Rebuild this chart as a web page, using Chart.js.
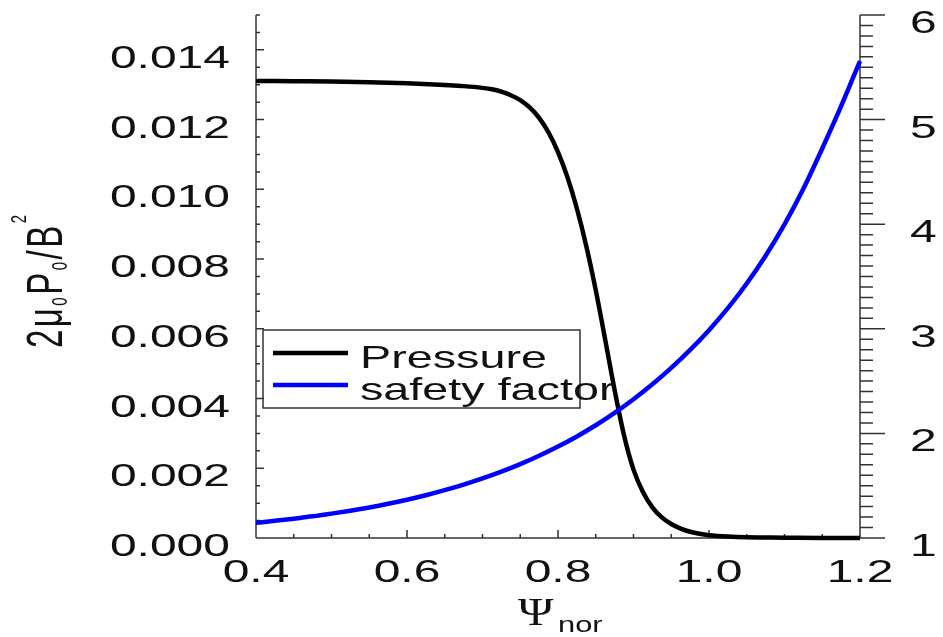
<!DOCTYPE html>
<html>
<head>
<meta charset="utf-8">
<script src="https://cdn.jsdelivr.net/npm/chart.js@4/dist/chart.umd.min.js"></script>
<style>
html, body { margin: 0; padding: 0; background: #fff; overflow: hidden; }
</style>
</head>
<body>
<canvas id="profChart" width="943" height="637"></canvas>
<script>
// data
const psiP = [0.40, 0.45, 0.50, 0.55, 0.60, 0.65, 0.675, 0.70, 0.7125, 0.725, 0.7375, 0.75, 0.7625,
              0.775, 0.7875, 0.80, 0.8125, 0.825, 0.8375, 0.85, 0.8625, 0.875, 0.8875, 0.90,
              0.9125, 0.925, 0.9375, 0.95, 0.9625, 0.975, 0.9875, 1.00, 1.025, 1.05, 1.10, 1.15, 1.20];
const pressure = [0.01311, 0.01310, 0.01309, 0.01307, 0.01304, 0.01299, 0.01296, 0.01291, 0.01287, 0.01280, 0.01270, 0.01256, 0.01235,
                  0.01205, 0.01163, 0.01107, 0.01035, 0.00945, 0.00837, 0.00711, 0.00569, 0.00424, 0.00294, 0.00196,
                  0.00132, 0.00088, 0.00059, 0.00040, 0.00027, 0.00018, 0.00012, 0.00008, 0.00004, 0.00002, 0.00001, 0.00000, 0.00000];
const psiQ = [0.400, 0.425, 0.450, 0.475, 0.500, 0.525, 0.550, 0.575, 0.600, 0.625, 0.650,
              0.675, 0.700, 0.725, 0.750, 0.775, 0.800, 0.825, 0.850, 0.875, 0.900, 0.925,
              0.950, 0.975, 1.000, 1.025, 1.050, 1.075, 1.100, 1.125, 1.150, 1.175, 1.200];
const safety = [1.145, 1.164, 1.185, 1.207, 1.233, 1.261, 1.292, 1.327, 1.366, 1.409, 1.457,
                1.510, 1.569, 1.634, 1.706, 1.786, 1.874, 1.971, 2.078, 2.196, 2.326, 2.469,
                2.626, 2.798, 2.987, 3.197, 3.433, 3.699, 3.999, 4.339, 4.724, 5.129, 5.560];

const xTicks = [0.4, 0.6, 0.8, 1.0, 1.2];
const xTickLabels = ['0.4', '0.6', '0.8', '1.0', '1.2'];
const leftTicks = [0, 0.002, 0.004, 0.006, 0.008, 0.010, 0.012, 0.014];
const leftTickLabels = ['0.000', '0.002', '0.004', '0.006', '0.008', '0.010', '0.012', '0.014'];
const rightTicks = [1, 2, 3, 4, 5, 6];
const rightTickLabels = ['1', '2', '3', '4', '5', '6'];
const seriesLabels = ['Pressure', 'safety factor'];
const seriesColors = ['#000000', '#0000ff'];

const TXT = '#111';
const AX = '#333';
const SX = 1.5; // the reference is stretched sideways

function stretchText(ctx, text, x, y, align, font, sx) {
    ctx.save();
    ctx.translate(x, y);
    ctx.scale(sx, 1);
    ctx.font = font;
    ctx.textAlign = align;
    ctx.textBaseline = 'alphabetic';
    ctx.fillStyle = TXT;
    ctx.fillText(text, 0, 0);
    ctx.restore();
}

// IDL style axes: inward ticks on left / bottom, outward on right
const axesPlugin = {
    id: 'idlAxes',
    beforeDatasetsDraw(chart) {
        const ctx = chart.ctx;
        const ca = chart.chartArea;
        const xs = chart.scales.x, ys = chart.scales.y, y1 = chart.scales.y1;
        ctx.save();
        ctx.strokeStyle = AX;
        ctx.lineWidth = 1.5;
        ctx.beginPath();
        ctx.moveTo(ca.left, ca.top); ctx.lineTo(ca.left, ca.bottom);
        ctx.moveTo(ca.left, ca.bottom); ctx.lineTo(ca.right, ca.bottom);
        ctx.moveTo(ca.right, ca.top); ctx.lineTo(ca.right, ca.bottom);
        // left minor/major ticks
        for (let i = 0; i <= 30; i++) {
            const py = ys.getPixelForValue(i * 0.0005);
            const len = i % 4 === 0 ? 8 : 4;
            ctx.moveTo(ca.left, py); ctx.lineTo(ca.left + len, py);
        }
        // bottom ticks
        for (let i = 0; i <= 16; i++) {
            const px = xs.getPixelForValue(0.4 + i * 0.05);
            const len = i % 4 === 0 ? 8 : 4;
            ctx.moveTo(px, ca.bottom); ctx.lineTo(px, ca.bottom - len);
        }
        // right ticks
        for (let i = 0; i <= 50; i++) {
            const py = y1.getPixelForValue(1 + i * 0.1);
            const len = i % 10 === 0 ? 25 : 13;
            ctx.moveTo(ca.right, py); ctx.lineTo(ca.right + len, py);
        }
        ctx.stroke();
        ctx.restore();

        const tickFont = '32px "Liberation Sans", Arial, sans-serif';
        leftTicks.forEach((v, i) => {
            stretchText(ctx, leftTickLabels[i], ca.left - 26, ys.getPixelForValue(v) + 18, 'right', tickFont, SX);
        });
        rightTicks.forEach((v, i) => {
            stretchText(ctx, rightTickLabels[i], ca.right + 50, y1.getPixelForValue(v) + 18, 'left', tickFont, SX);
        });
        xTicks.forEach((v, i) => {
            stretchText(ctx, xTickLabels[i], xs.getPixelForValue(v), ca.bottom + 44, 'center', tickFont, SX);
        });

        // x title: Psi_nor
        stretchText(ctx, '\u03A8', 518, 625, 'left', '40px "Liberation Serif", serif', 1.2);
        stretchText(ctx, 'nor', 558, 632, 'left', '22px "Liberation Sans", Arial, sans-serif', 1.4);

        // y title: 2 mu_0 P_0 / B^2, rotated
        const parts = [
            ['2', 33, 0], ['\u03BC', 33, 0], ['0', 15, 3], ['P', 33, 0],
            ['0', 15, 3], ['/', 33, 0], ['B', 33, 0], ['2', 15, -24]
        ];
        ctx.save();
        ctx.translate(62, 348);
        ctx.rotate(-Math.PI / 2);
        ctx.scale(1, SX);
        ctx.fillStyle = TXT;
        ctx.textBaseline = 'alphabetic';
        ctx.textAlign = 'left';
        let pos = 0;
        parts.forEach(([t, size, dy]) => {
            ctx.font = size + 'px "Liberation Sans", Arial, sans-serif';
            ctx.fillText(t, pos, dy);
            pos += ctx.measureText(t).width + 2.5;
        });
        ctx.restore();
    },
    afterDatasetsDraw(chart) {
        const ctx = chart.ctx;
        // legend box
        ctx.save();
        ctx.strokeStyle = AX;
        ctx.lineWidth = 1.5;
        ctx.strokeRect(263, 330, 317, 78);
        const rows = [353, 385];
        rows.forEach((ry, i) => {
            ctx.strokeStyle = seriesColors[i];
            ctx.lineWidth = 4.5;
            ctx.beginPath();
            ctx.moveTo(273, ry); ctx.lineTo(348, ry);
            ctx.stroke();
        });
        ctx.restore();
        const legFont = '32px "Liberation Sans", Arial, sans-serif';
        stretchText(ctx, seriesLabels[0], 360, 368, 'left', legFont, 1.46);
        stretchText(ctx, seriesLabels[1], 360, 400, 'left', legFont, 1.46);
    }
};

const ctx = document.getElementById('profChart').getContext('2d');
new Chart(ctx, {
    type: 'line',
    data: {
        datasets: [{
            label: seriesLabels[0],
            data: psiP.map((x, i) => ({ x: x, y: pressure[i] })),
            borderColor: seriesColors[0],
            borderWidth: 4.5,
            pointRadius: 0,
            cubicInterpolationMode: 'monotone',
            yAxisID: 'y',
            order: 1,
            clip: 6
        }, {
            label: seriesLabels[1],
            data: psiQ.map((x, i) => ({ x: x, y: safety[i] })),
            borderColor: seriesColors[1],
            borderWidth: 4.5,
            pointRadius: 0,
            cubicInterpolationMode: 'monotone',
            yAxisID: 'y1',
            order: 0,
            clip: 6
        }]
    },
    options: {
        responsive: false,
        animation: false,
        layout: { padding: { left: 256, right: 83, top: 15, bottom: 99 } },
        scales: {
            x: { type: 'linear', min: 0.4, max: 1.2, display: false },
            y: { type: 'linear', min: 0, max: 0.015, display: false },
            y1: { type: 'linear', min: 1, max: 6, display: false }
        },
        plugins: {
            legend: { display: false },
            tooltip: { enabled: false }
        }
    },
    plugins: [axesPlugin]
});
</script>
</body>
</html>
